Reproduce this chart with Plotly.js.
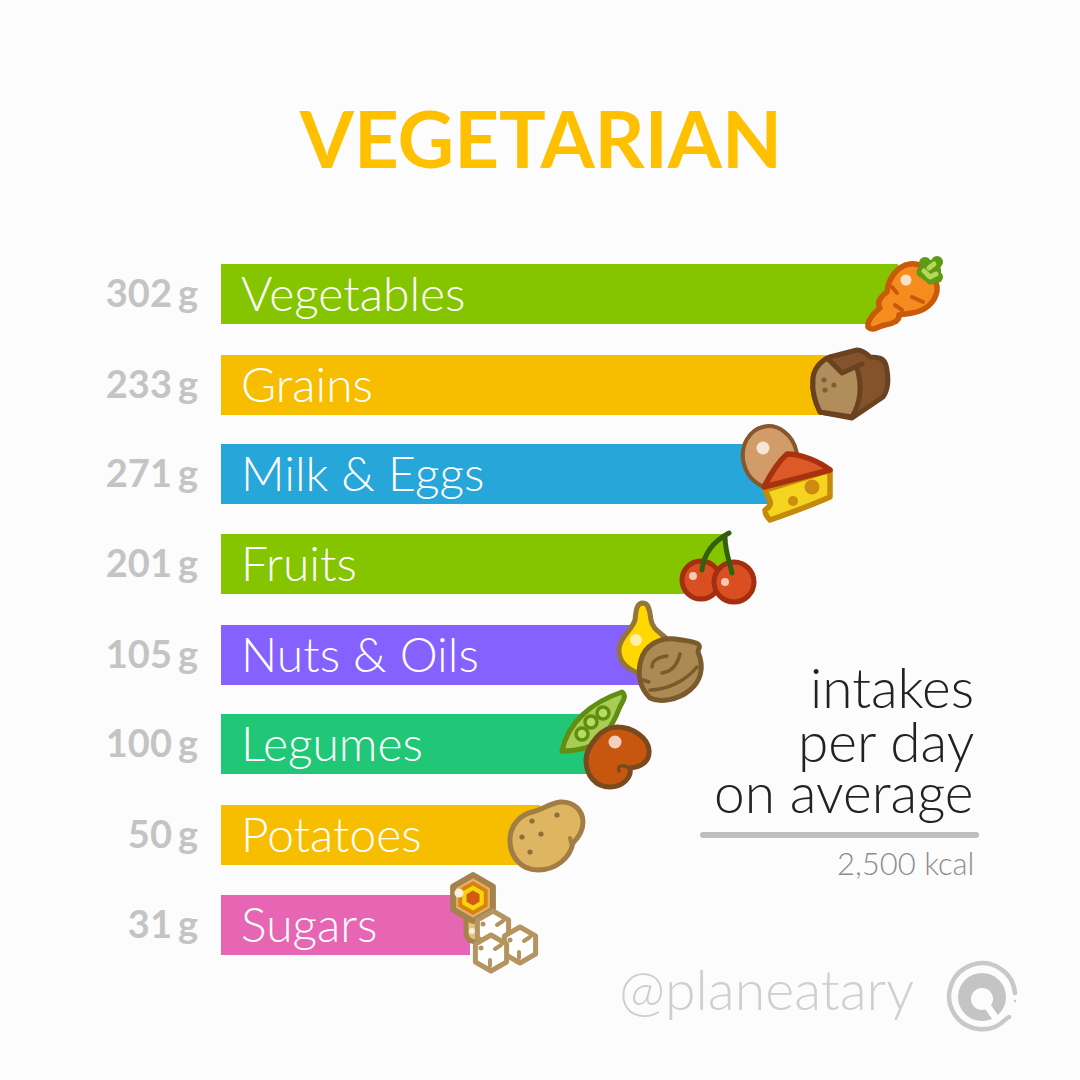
<!DOCTYPE html>
<html><head><meta charset="utf-8">
<script src="https://cdn.plot.ly/plotly-3.0.1.min.js"></script>
<style>html,body{margin:0;padding:0;background:#fcfcfc}</style></head>
<body><div id="chart" style="width:1080px;height:1080px"></div>
<script>
// ---- data ----
const categories = ["Vegetables","Grains","Milk & Eggs","Fruits","Nuts & Oils","Legumes","Potatoes","Sugars"];
const intakeDigits = ["302","233","271","201","105","100","50","31"];
const barLengths = [677,609,549,506,429,379,319,249];
const barColors = ["#84c500","#f7be00","#27a6da","#84c500","#8561ff","#20c777","#f7be00","#e666b3"];
const rowCenters = [294,385,474,564,655,744,835,925];
const captionLines = ["intakes","per day","on average"];

const LEFT = 221;
const FONT = "Lato, 'Noto Sans', sans-serif";

function icon(x,y,w,h,body){
  const svg = `<svg xmlns="http://www.w3.org/2000/svg" width="${w*3}" height="${h*3}" viewBox="${x} ${y} ${w} ${h}" stroke-linejoin="round" stroke-linecap="round">${body}</svg>`;
  return {source:"data:image/svg+xml;charset=utf-8,"+encodeURIComponent(svg),xref:"x",yref:"y",
    x:x-LEFT,y:y,sizex:w,sizey:h,xanchor:"left",yanchor:"top",sizing:"stretch",layer:"above"};
}
const hex=(cx,cy,r)=>{let p=[];for(let i=0;i<6;i++){const a=Math.PI/3*i-Math.PI/2;p.push((cx+r*Math.cos(a)).toFixed(1)+","+(cy+r*Math.sin(a)).toFixed(1));}return p.join(" ");};

const carrot = `
<path d="M868 327C867 320 874 313 880 308C876 302 882 295 887 292C888 280 896 266 910 264C924 262 939 280 937 291C935 303 925 311 912 313C908 314 903 314 899 315C900 320 893 324 885 325C878 326 873 332 868 327Z" fill="#f58c1e" stroke="#c85a0a" stroke-width="5.5"/>
<path d="M892 287L897 293M912 297L923 302M895 305L902 310" stroke="#c85a0a" stroke-width="4" fill="none"/>
<circle cx="906" cy="280" r="5.5" fill="#fbe0c8"/>
<g fill="#5e9a12"><circle cx="930" cy="271" r="11"/><circle cx="925" cy="263" r="6"/><circle cx="937" cy="262" r="6"/><circle cx="937" cy="277" r="6"/><circle cx="931" cy="279" r="5.5"/><circle cx="922" cy="272" r="5.5"/></g>
<path d="M924 271L930 277L936 274M929 268L934 264" stroke="#b5d75a" stroke-width="5" fill="none"/>`;
const bread = `
<path d="M813 380C813 370 820 361 830 357L857 350C863 350 867 354 870 357C878 357 884 358 886 365C889 378 888 390 883 397L852 418L820 412C815 402 812 390 813 380Z" fill="#84532c" stroke="#6b4220" stroke-width="5"/>
<path d="M813 380C813 372 820 364 829 360L842 373L857 367C862 385 861 402 852 417L820 412C815 402 812 390 813 380Z" fill="#b08d5b"/>
<path d="M829 360L842 373L862 364M857 368C862 385 861 402 852 417L820 412C815 402 812 390 813 380C813 370 820 361 830 357" fill="none" stroke="#6b4220" stroke-width="5"/>
<circle cx="824" cy="380" r="2.6" fill="#7f5f35"/><circle cx="834" cy="385" r="2.6" fill="#7f5f35"/><circle cx="825" cy="390" r="2.6" fill="#7f5f35"/>`;
const eggCheese = `
<ellipse cx="770" cy="457" rx="27" ry="31" transform="rotate(-12 770 457)" fill="#d29c69" stroke="#86562c" stroke-width="4"/>
<circle cx="763" cy="448" r="6.5" fill="#f6e4d6"/>
<path d="M765 490L830 470L830 497C810 506 790 513 770 520C766 516 765 513 765 510C770 507 771 504 770 501Z" fill="#f4d41e" stroke="#c68a0a" stroke-width="5.5"/>
<path d="M764 487C770 475 778 462 787 454C802 454 820 462 830 470Z" fill="#dd5a28" stroke="#a8320f" stroke-width="5.5"/>
<circle cx="812" cy="487" r="7.5" fill="#ce8b12"/><circle cx="793" cy="501" r="5" fill="#ce8b12"/>`;
const cherries = `
<circle cx="701" cy="580" r="19" fill="#d94f22" stroke="#a32e10" stroke-width="5"/>
<circle cx="734" cy="582" r="20" fill="#d94f22" stroke="#a32e10" stroke-width="5"/>
<circle cx="693" cy="576" r="4" fill="#f6c9b5"/><circle cx="725" cy="582" r="4" fill="#f6c9b5"/>
<path d="M702 570C704 552 714 541 729 533M732 573C729 560 725 550 725 537" stroke="#34600e" stroke-width="5" fill="none"/>`;
const oilNut = `
<path d="M643 603C650 603 650 615 651 620C653 630 660 632 668 640C660 660 650 672 638 673C625 668 618 660 619 648C621 636 632 630 635 620C636 612 636 603 643 603Z" fill="#ffd800" stroke="#94753a" stroke-width="5"/>
<circle cx="636" cy="640" r="6" fill="#fff1a8"/>
<path d="M641 660C645 645 660 637 675 639C683 640 690 641 696 643C703 646 697 650 698 652C705 668 700 682 690 690C678 700 660 703 650 698C642 690 636 678 641 660Z" fill="#ac8a54" stroke="#7b5a2c" stroke-width="5"/>
<path d="M652 667C652 661 658 657 667 656M662 673C670 672 677 666 680 654M650 690C665 690 685 682 697 667M643 680L649 682" stroke="#7b5a2c" stroke-width="3.5" fill="none"/>`;
const peaBean = `
<path d="M562 751C568 722 592 702 622 692C628 697 621 703 619 709C612 728 600 743 585 748C578 750 570 751 562 751Z" fill="#a9cc52" stroke="#5f8e12" stroke-width="5"/>
<g fill="#b6dc60" stroke="#5f8e12" stroke-width="3.5"><circle cx="603" cy="713" r="6"/><circle cx="591" cy="722" r="6"/><circle cx="582" cy="734" r="6"/></g>
<path d="M597 737C604 729 612 727 617 727C633 727 648 738 649 750C650 762 641 767 630 768C632 778 622 787 610 787C595 787 586 775 586 760C586 752 590 745 597 737Z" fill="#c7560e" stroke="#7a4a1f" stroke-width="5"/>
<path d="M619 771C617 766 622 764 629 768" stroke="#7a4a1f" stroke-width="3.5" fill="none"/>
<circle cx="615" cy="742" r="6.5" fill="#f2cfc0"/>`;
const potato = `
<path d="M510 838C511 825 520 815 532 812C540 811 548 804 560 802C575 801 583 812 583 822C583 832 578 838 573 843C570 858 556 870 538 870C520 870 509 855 510 838Z" fill="#deb561" stroke="#a27e44" stroke-width="5"/>
<g fill="#8f6e3a"><circle cx="532" cy="821" r="2.6"/><circle cx="557" cy="815" r="2.6"/><circle cx="522" cy="837" r="2.6"/><circle cx="541" cy="834" r="2.6"/><circle cx="530" cy="852" r="2.6"/></g>
<path d="M570 838L572 846" stroke="#a27e44" stroke-width="4" fill="none"/>`;
const cube = (cx,cy)=>`<polygon points="${hex(cx,cy,18)}" fill="#ffffff" stroke="#b4945f" stroke-width="5"/>
<circle cx="${cx-10}" cy="${cy-5}" r="2.5" fill="#b4945f"/><path d="M${cx+4} ${cy-4}L${cx+10} ${cy-8}M${cx-1} ${cy+7}L${cx-1} ${cy+13}" stroke="#b4945f" stroke-width="4" fill="none"/>`;
const honeySugar = `
<path d="M466 920L466 934C468 943 478 944 484 938L484 920Z" fill="#e6c27f" stroke="#a5824b" stroke-width="5"/>
<polygon points="${hex(473,898,23)}" fill="#e2b06a" stroke="#a5824b" stroke-width="6"/>
<polygon points="${hex(473,898,17)}" fill="#d9830e"/>
<polygon points="${hex(473,898,12.5)}" fill="#f5d40e"/>
<polygon points="${hex(473,898,7.5)}" fill="#d25a12"/>
<circle cx="459" cy="893" r="4.5" fill="#f8efe0"/><circle cx="472" cy="931" r="3" fill="#f8efe0"/>
${cube(493,929)}${cube(520,945)}${cube(491,953)}`;
const logo = `
<circle cx="982" cy="997" r="24" fill="#c4c4c4"/><circle cx="982" cy="999" r="11" fill="#fcfcfc"/>
<path d="M986 1004L997 1020" stroke="#fcfcfc" stroke-width="7" fill="none"/>
<path d="M1015 993A33 33 0 1 0 1006 1019L1009 1017" fill="none" stroke="#c9c9c9" stroke-width="4.5"/>
<circle cx="1015" cy="1001" r="1.2" fill="#c9c9c9"/>`;

const images = [
  icon(858,250,92,85,carrot), icon(806,344,88,80,bread), icon(738,420,98,105,eggCheese),
  icon(675,524,86,84,cherries), icon(612,596,95,110,oilNut), icon(556,686,100,107,peaBean),
  icon(504,796,85,80,potato), icon(441,868,102,108,honeySugar), icon(940,955,84,80,logo)
];

const ann = (px,y,text,size,color,anchor,weight)=>({xref:"x",yref:"y",x:px-LEFT,y:y,text:text,showarrow:false,
  xanchor:anchor,yanchor:"middle",font:{family:FONT,size:size,color:color,weight:weight||300}});

const annotations = categories.map((c,i)=>ann(239,rowCenters[i]-2,c,48,"#ffffff","left"));
const capY=[687,741,792];
captionLines.forEach((t,i)=>annotations.push(ann(976,capY[i],t,55,"#222222","right")));
annotations.push(ann(976,863,"2,500 kcal",31,"#8c8c8c","right"));
annotations.push(ann(617,988,"@planeatary",55.5,"#cfcfcf","left"));

const trace = {type:"bar",orientation:"h",y:rowCenters,x:barLengths,width:60,
  marker:{color:barColors,line:{width:0}},hoverinfo:"skip"};

const tickText = intakeDigits.map(d=>`${d.slice(0,-1)}<span style="letter-spacing:6px">${d.slice(-1)}</span>g`);

const layout = {
  width:1080,height:1080,margin:{l:LEFT,r:0,t:0,b:0,pad:0},
  paper_bgcolor:"#fcfcfc",plot_bgcolor:"#fcfcfc",showlegend:false,
  title:{text:"VEGETARIAN",xref:"container",yref:"container",x:0.5009,y:0.87,xanchor:"center",yanchor:"middle",
    font:{family:FONT,size:78,color:"#ffc000",weight:700}},
  xaxis:{range:[0,859],visible:false,fixedrange:true},
  yaxis:{range:[1080,0],showgrid:false,zeroline:false,showline:false,ticks:"",
    tickmode:"array",tickvals:rowCenters,ticktext:tickText,ticklabelstandoff:22,
    tickfont:{family:FONT,size:38,color:"#c4c4c4",weight:700}},
  images:images,annotations:annotations,
  shapes:[{type:"path",xref:"x",yref:"y",layer:"above",fillcolor:"#bebebe",line:{width:0},
    path:`M${703-LEFT} 832L${976-LEFT} 832Q${979-LEFT} 832 ${979-LEFT} 835Q${979-LEFT} 838 ${976-LEFT} 838L${703-LEFT} 838Q${700-LEFT} 838 ${700-LEFT} 835Q${700-LEFT} 832 ${703-LEFT} 832Z`}]
};
Plotly.newPlot("chart",[trace],layout,{displayModeBar:false,staticPlot:true});
</script></body></html>
